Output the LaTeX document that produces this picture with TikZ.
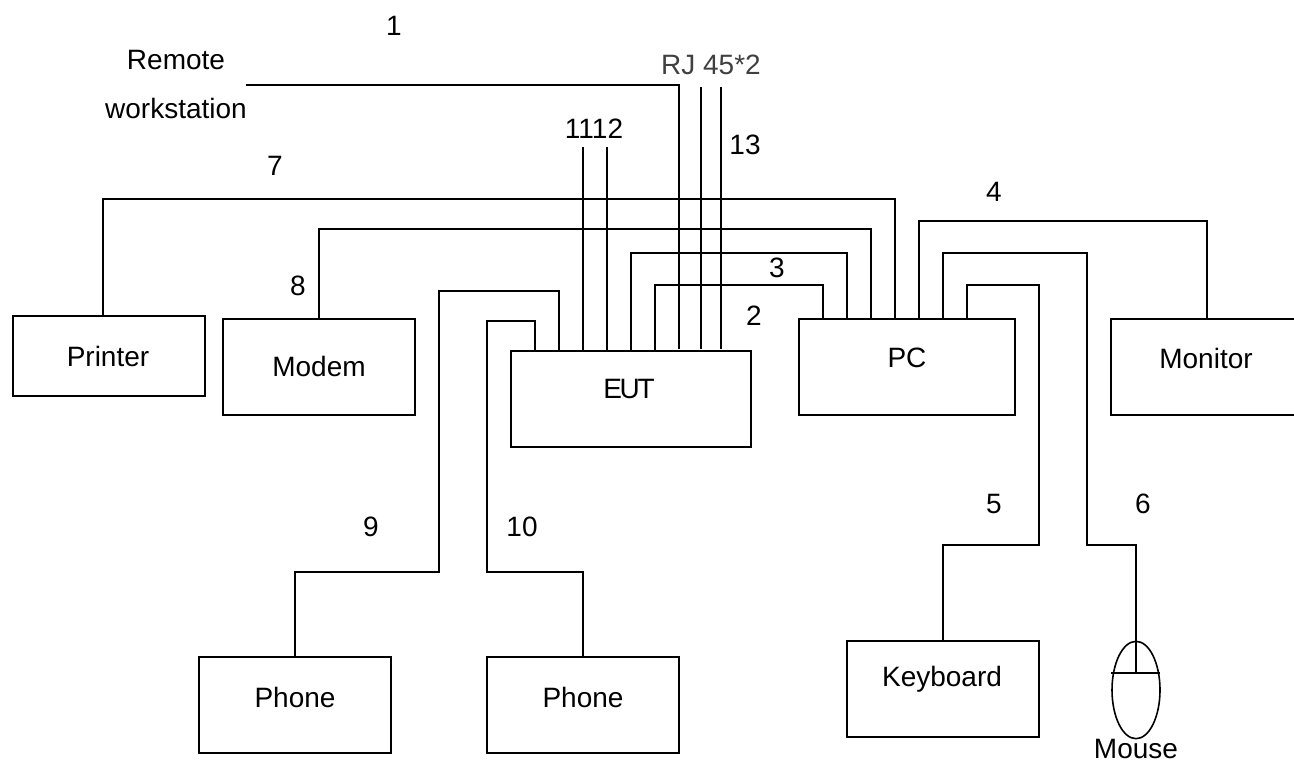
\documentclass[tikz,border=0pt]{standalone}
\usepackage{fontspec}
\setmainfont{Liberation Sans}
\usetikzlibrary{shapes.geometric}
\definecolor{rjgrey}{HTML}{404040}

\begin{document}
\begin{tikzpicture}[
  x=0.75pt, y=-0.75pt,
  box/.style={rectangle, draw=black, line width=1.2pt, inner sep=0pt,
              minimum width=144pt, minimum height=72pt},
  wire/.style={draw=black, line width=1.2pt},
  lbl/.style={font=\fontsize{21}{25}\selectfont, inner sep=0pt},
]
  \clip (0,0) rectangle (1294,763);
  \node[box, minimum height=60pt] (printer) at (109,356) {};
  \node[box] (modem) at (319,367) {};
  \node[box, minimum width=180pt] (eut) at (631,399) {};
  \node[box, minimum width=162pt] (pc) at (907,367) {};
  \node[box] (monitor) at (1207,367) {};
  \node[box] (keyboard) at (943,689) {};
  \node[box] (phoneA) at (295,705) {};
  \node[box] (phoneB) at (583,705) {};
  \node[ellipse, draw=black, line width=1.2pt, inner sep=0pt,
        minimum width=36pt, minimum height=73pt] (mouse) at (1136,690) {};

  \node[lbl] (printerT) at (108,356) {Printer};
  \node[lbl] (modemT) at (319,366) {Modem};
  \node[lbl, font=\fontsize{21}{25}\selectfont\addfontfeature{LetterSpace=-8}] (eutT) at (629,389) {EUT};
  \node[lbl] (pcT) at (907,358) {PC};
  \node[lbl] (monitorT) at (1206,358) {Monitor};
  \node[lbl] (keyboardT) at (942,679) {Keyboard};
  \node[lbl] (phoneAT) at (295,697) {Phone};
  \node[lbl] (phoneBT) at (583,697) {Phone};
  \node[lbl] (mouseT) at (1136,749) {Mouse};
  \node[lbl] (remoteT) at (176,60) {Remote};
  \node[lbl] (workT) at (176,108) {workstation};
  \node[lbl, text=rjgrey] (rjT) at (711,65) {RJ 45*2};
  \node[lbl] (n1) at (394,26) {1};
  \node[lbl] (n2) at (754,316) {2};
  \node[lbl] (n3) at (777,268) {3};
  \node[lbl] (n4) at (994,192) {4};
  \node[lbl] (n5) at (994,504) {5};
  \node[lbl] (n6) at (1143,504) {6};
  \node[lbl] (n7) at (275,166) {7};
  \node[lbl] (n8) at (298,286) {8};
  \node[lbl] (n9) at (371,527) {9};
  \node[lbl] (n10) at (522,527) {10};
  \node[lbl] (n1112) at (594,129) {1112};
  \node[lbl] (n13) at (745,145) {13};

  \coordinate (printerA) at (103,316);
  \coordinate (eutA) at (535,352);
  \coordinate (eutB) at (559,352);
  \coordinate (eutC) at (583,352);
  \coordinate (eutD) at (607,352);
  \coordinate (eutE) at (631,352);
  \coordinate (eutF) at (655,352);
  \coordinate (eutG) at (679,349);
  \coordinate (eutH) at (701,349);
  \coordinate (eutI) at (721,349);
  \coordinate (pcA) at (823,320);
  \coordinate (pcB) at (847,320);
  \coordinate (pcC) at (871,320);
  \coordinate (pcD) at (895,320);
  \coordinate (pcE) at (919,320);
  \coordinate (pcF) at (943,320);
  \coordinate (pcG) at (967,320);
  \coordinate (remote) at (246,85);
  \coordinate (lineA) at (583,147);
  \coordinate (lineB) at (607,147);
  \coordinate (lineC) at (701,87);
  \coordinate (lineD) at (721,87);
  \coordinate (btn) at (1136,673);

  \draw[wire] (printerA) |- (895,199) -- (pcD);
  \draw[wire] (modem.north) |- (871,229) -- (pcC);
  \draw[wire] (eutE) |- (847,253) -- (pcB);
  \draw[wire] (eutF) |- (823,285) -- (pcA);
  \draw[wire] (remote) -| (eutG);
  \draw[wire] (lineC) -- (eutH);
  \draw[wire] (lineD) -- (eutI);
  \draw[wire] (lineA) -- (eutC);
  \draw[wire] (lineB) -- (eutD);
  \draw[wire] (eutB) |- (439,291) |- (295,572) -- (phoneA.north);
  \draw[wire] (eutA) |- (487,321) |- (583,572) -- (phoneB.north);
  \draw[wire] (pcE) |- (1207,221) -- (monitor.north);
  \draw[wire] (pcF) |- (1087,253) |- (1136,545) -- (btn);
  \draw[wire] (pcG) |- (1039,285) |- (943,545) -- (keyboard.north);
  \draw[wire] (1111,673) -- (1160,673);
\end{tikzpicture}
\end{document}
